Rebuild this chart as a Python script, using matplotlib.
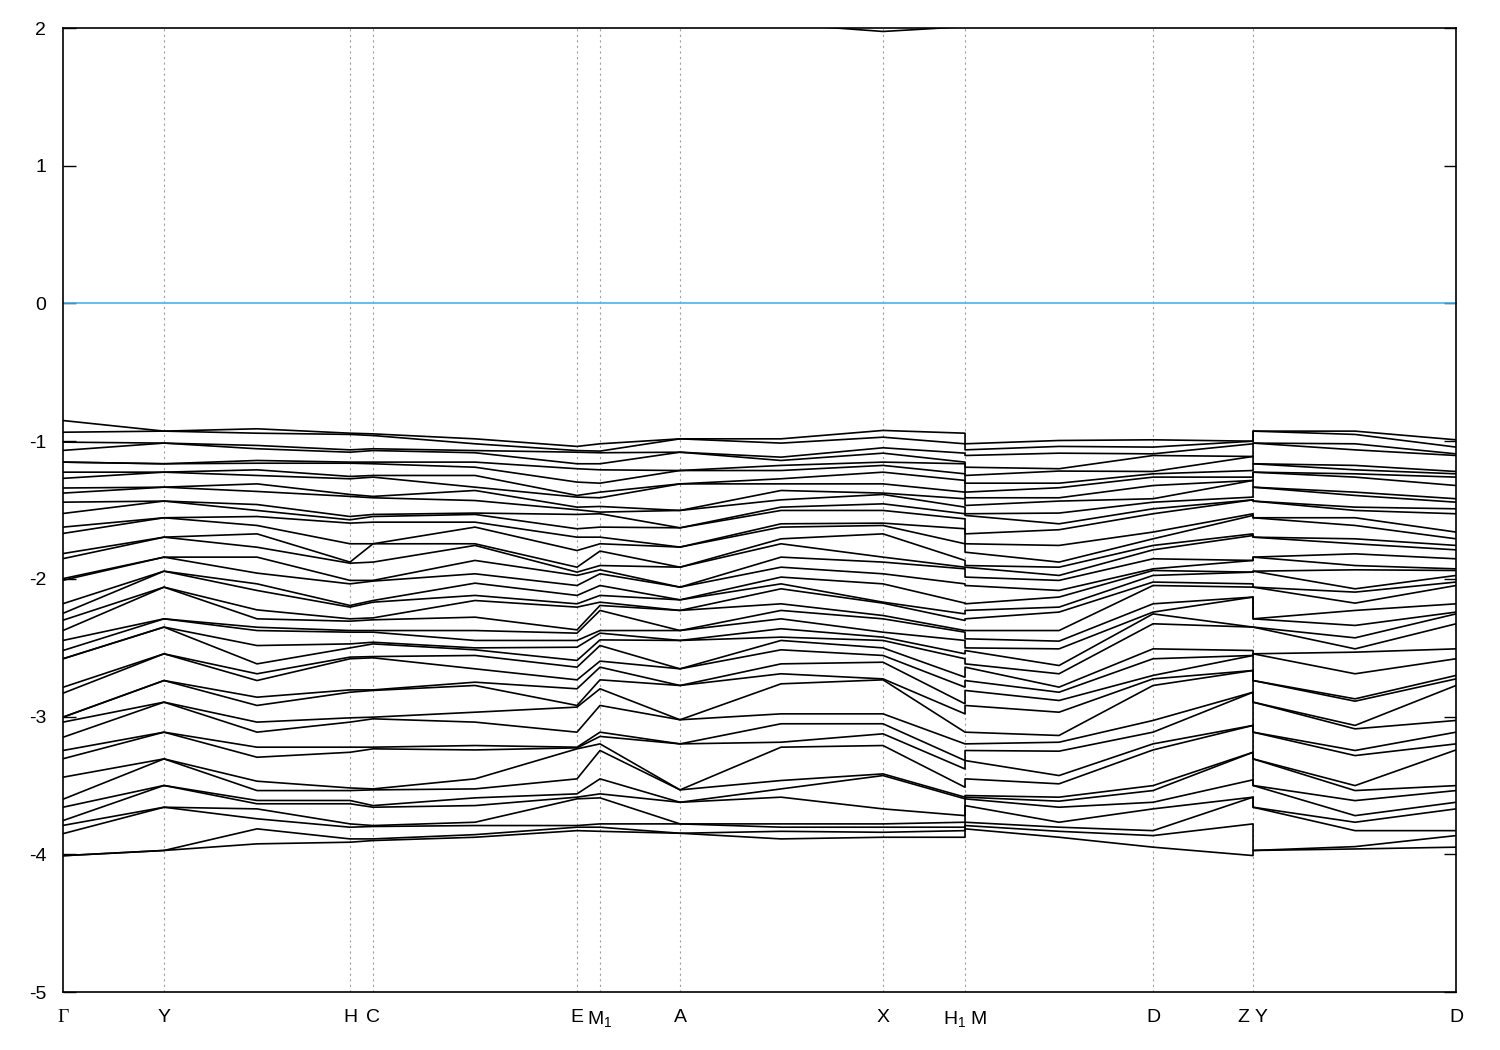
import numpy as np
import matplotlib
matplotlib.use("Agg")
import matplotlib.pyplot as plt

plt.rcParams['font.family'] = ['Liberation Sans', 'DejaVu Sans']
plt.rcParams['mathtext.fontset'] = 'custom'
plt.rcParams['mathtext.rm'] = 'Liberation Sans'
plt.rcParams['mathtext.it'] = 'Liberation Sans:italic'

# path coordinate of each sampled k-point (H1|M and Z|Y are path breaks)
kpath = [0, 101, 194, 287, 310, 412, 514, 537, 617, 718, 820, 902,
         902, 996, 1090, 1190,
         1190, 1292, 1393]

tick_pos = [0, 101, 287, 310, 514, 537, 617, 820, 902, 1090, 1190, 1393]
tick_lab = ['Γ', 'Y', 'H', 'C', 'E', r'M$_1$', 'A', 'X', r'H$_1$ M', 'D', 'Z Y', 'D']

# band energies (eV) read at each k sample, 42 bands
e_gamma = [-0.850, -0.935, -1.007, -1.067, -1.152, -1.152, -1.225, -1.270, -1.340, -1.377,
           -1.443, -1.525, -1.624, -1.670, -1.816, -1.853, -1.998, -2.010, -2.180, -2.250,
           -2.300, -2.375, -2.447, -2.520, -2.580, -2.580, -2.787, -2.830, -3.004, -3.004,
           -3.040, -3.150, -3.246, -3.306, -3.440, -3.600, -3.658, -3.755, -3.790, -3.850,
           -4.010, -4.010]
e_y = [-0.927, -0.927, -1.014, -1.014, -1.164, -1.164, -1.225, -1.225, -1.334, -1.334,
       -1.435, -1.435, -1.556, -1.556, -1.697, -1.697, -1.842, -1.842, -1.944, -1.944,
       -2.060, -2.060, -2.290, -2.290, -2.350, -2.350, -2.544, -2.544, -2.738, -2.738,
       -2.895, -2.895, -3.113, -3.113, -3.307, -3.307, -3.500, -3.500, -3.658, -3.658,
       -3.972, -3.972]
e_yh = [-0.910, -0.942, -1.031, -1.055, -1.140, -1.160, -1.208, -1.249, -1.310, -1.365,
        -1.460, -1.503, -1.547, -1.612, -1.673, -1.770, -1.842, -1.958, -2.036, -2.084,
        -2.225, -2.290, -2.351, -2.375, -2.484, -2.617, -2.689, -2.738, -2.859, -2.919,
        -3.040, -3.113, -3.222, -3.295, -3.469, -3.537, -3.609, -3.633, -3.670, -3.742,
        -3.815, -3.924]
e_h = [-0.942, -0.951, -1.063, -1.080, -1.152, -1.160, -1.256, -1.273, -1.387, -1.401,
       -1.547, -1.571, -1.595, -1.745, -1.878, -1.886, -2.011, -2.036, -2.193, -2.205,
       -2.290, -2.307, -2.375, -2.387, -2.472, -2.501, -2.568, -2.580, -2.806, -2.823,
       -3.009, -3.040, -3.222, -3.259, -3.518, -3.537, -3.609, -3.633, -3.779, -3.803,
       -3.888, -3.912]
e_c = [-0.947, -0.959, -1.055, -1.068, -1.152, -1.164, -1.249, -1.261, -1.401, -1.411,
       -1.532, -1.547, -1.588, -1.745, -1.745, -1.878, -2.011, -2.016, -2.157, -2.169,
       -2.283, -2.297, -2.375, -2.387, -2.460, -2.472, -2.564, -2.573, -2.806, -2.810,
       -3.004, -3.016, -3.222, -3.234, -3.525, -3.532, -3.646, -3.658, -3.791, -3.798,
       -3.888, -3.900]
e_ce = [-0.983, -1.019, -1.068, -1.084, -1.152, -1.189, -1.249, -1.334, -1.358, -1.431,
        -1.522, -1.532, -1.588, -1.624, -1.745, -1.757, -1.866, -1.963, -2.031, -2.120,
        -2.157, -2.278, -2.375, -2.447, -2.501, -2.515, -2.556, -2.653, -2.750, -2.774,
        -2.968, -3.040, -3.210, -3.242, -3.452, -3.525, -3.590, -3.646, -3.767, -3.791,
        -3.857, -3.876]
e_e = [-1.038, -1.068, -1.080, -1.164, -1.200, -1.297, -1.394, -1.406, -1.479, -1.498,
       -1.532, -1.636, -1.697, -1.794, -1.915, -1.951, -1.975, -2.048, -2.120, -2.181,
       -2.205, -2.370, -2.394, -2.447, -2.496, -2.592, -2.641, -2.733, -2.798, -2.919,
       -2.931, -3.113, -3.222, -3.227, -3.234, -3.452, -3.561, -3.585, -3.597, -3.791,
       -3.803, -3.828]
e_m1 = [-1.019, -1.072, -1.084, -1.164, -1.208, -1.305, -1.370, -1.411, -1.474, -1.515,
        -1.527, -1.624, -1.697, -1.745, -1.798, -1.903, -1.934, -1.963, -2.048, -2.120,
        -2.169, -2.193, -2.229, -2.375, -2.394, -2.443, -2.484, -2.597, -2.641, -2.733,
        -2.798, -2.919, -3.113, -3.144, -3.198, -3.246, -3.452, -3.561, -3.590, -3.779,
        -3.803, -3.833]
e_a = [-0.983, -0.983, -1.080, -1.080, -1.213, -1.213, -1.310, -1.310, -1.503, -1.503,
       -1.629, -1.629, -1.769, -1.769, -1.915, -1.915, -2.060, -2.060, -2.152, -2.152,
       -2.229, -2.229, -2.375, -2.375, -2.447, -2.447, -2.653, -2.653, -2.774, -2.774,
       -3.023, -3.023, -3.198, -3.198, -3.532, -3.532, -3.622, -3.622, -3.779, -3.779,
       -3.847, -3.847]
e_ax = [-0.983, -1.014, -1.116, -1.140, -1.176, -1.213, -1.273, -1.310, -1.358, -1.426,
        -1.479, -1.503, -1.600, -1.624, -1.709, -1.745, -1.842, -1.915, -1.987, -2.036,
        -2.072, -2.181, -2.229, -2.290, -2.362, -2.423, -2.447, -2.515, -2.617, -2.689,
        -2.762, -2.980, -3.052, -3.186, -3.222, -3.464, -3.525, -3.585, -3.779, -3.803,
        -3.833, -3.888]
e_x = [-0.922, -0.971, -1.048, -1.087, -1.152, -1.176, -1.225, -1.310, -1.377, -1.387,
       -1.455, -1.503, -1.595, -1.612, -1.673, -1.842, -1.878, -1.963, -2.036, -2.169,
       -2.176, -2.266, -2.290, -2.387, -2.423, -2.447, -2.501, -2.556, -2.605, -2.726,
       -2.733, -2.980, -3.052, -3.125, -3.210, -3.416, -3.428, -3.670, -3.779, -3.803,
       -3.840, -3.876]
e_h1 = [-0.942, -1.019, -1.087, -1.152, -1.164, -1.237, -1.285, -1.370, -1.418, -1.479,
        -1.527, -1.564, -1.636, -1.745, -1.866, -1.915, -1.927, -2.036, -2.176, -2.254,
        -2.302, -2.375, -2.387, -2.447, -2.544, -2.580, -2.714, -2.786, -2.907, -2.980,
        -3.113, -3.198, -3.319, -3.380, -3.513, -3.585, -3.597, -3.719, -3.767, -3.803,
        -3.828, -3.876]
e_m = [-1.019, -1.063, -1.104, -1.189, -1.249, -1.305, -1.370, -1.411, -1.467, -1.527,
       -1.539, -1.673, -1.745, -1.806, -1.903, -1.915, -1.987, -2.048, -2.181, -2.229,
       -2.290, -2.375, -2.435, -2.501, -2.520, -2.617, -2.641, -2.738, -2.810, -2.919,
       -3.113, -3.198, -3.246, -3.319, -3.452, -3.573, -3.585, -3.597, -3.646, -3.767,
       -3.791, -3.815]
e_md = [-0.995, -1.038, -1.087, -1.200, -1.217, -1.305, -1.338, -1.411, -1.435, -1.522,
        -1.600, -1.643, -1.757, -1.878, -1.915, -1.975, -2.011, -2.084, -2.132, -2.205,
        -2.241, -2.375, -2.452, -2.508, -2.629, -2.689, -2.786, -2.823, -2.883, -2.968,
        -3.137, -3.186, -3.251, -3.428, -3.488, -3.585, -3.614, -3.658, -3.767, -3.803,
        -3.833, -3.876]
e_d = [-0.990, -1.043, -1.092, -1.104, -1.220, -1.237, -1.261, -1.322, -1.418, -1.443,
       -1.491, -1.527, -1.660, -1.709, -1.757, -1.789, -1.854, -1.927, -1.939, -1.975,
       -2.023, -2.048, -2.181, -2.241, -2.254, -2.326, -2.508, -2.580, -2.701, -2.726,
       -2.774, -3.028, -3.113, -3.198, -3.242, -3.501, -3.537, -3.622, -3.670, -3.828,
       -3.864, -3.948]
e_z = [-1.000, -1.000, -1.019, -1.111, -1.111, -1.213, -1.261, -1.285, -1.285, -1.406,
       -1.426, -1.426, -1.527, -1.539, -1.673, -1.685, -1.866, -1.866, -1.951, -1.951,
       -2.036, -2.060, -2.132, -2.132, -2.350, -2.350, -2.520, -2.556, -2.556, -2.665,
       -2.665, -2.823, -2.823, -3.064, -3.064, -3.259, -3.259, -3.459, -3.585, -3.585,
       -3.779, -4.009]
e_yd = [-0.927, -0.951, -1.019, -1.063, -1.176, -1.208, -1.237, -1.261, -1.370, -1.394,
        -1.479, -1.503, -1.556, -1.612, -1.709, -1.745, -1.818, -1.903, -1.934, -2.072,
        -2.096, -2.176, -2.229, -2.338, -2.428, -2.508, -2.532, -2.689, -2.871, -2.888,
        -3.064, -3.089, -3.246, -3.283, -3.501, -3.537, -3.610, -3.719, -3.767, -3.828,
        -3.944, -3.961]

columns = [e_gamma, e_y, e_yh, e_h, e_c, e_ce, e_e, e_m1, e_a, e_ax, e_x, e_h1,
           e_m, e_md, e_d, e_z,
           e_y, e_yd, e_d]

# lowest conduction band, only visible around X
cb_k = [617, 718, 820, 902]
cb_e = [2.15, 2.03, 1.975, 2.01]

bands = np.array([sorted(c) for c in columns])

fig = plt.figure(figsize=(15, 10.5), dpi=100)
ax = fig.add_axes([0.042, 0.0552, 0.9287, 0.9181])

for x in tick_pos[1:-1]:
    ax.axvline(x, color='#a0a0a0', lw=0.8, ls=(0, (2, 3)), zorder=1)

ax.axhline(0, color='#4fb0e3', lw=1.2, zorder=2)
ax.plot(kpath, bands, color='k', lw=1.2, zorder=3)
ax.plot(cb_k, cb_e, color='k', lw=1.2, zorder=3)

ax.set_xlim(0, 1393)
ax.set_ylim(-5, 2)
ax.set_yticks(range(-5, 3))
ax.set_yticklabels([str(v) for v in range(-5, 3)])
ax.set_xticks(tick_pos)
ax.set_xticklabels(tick_lab)
ax.get_xticklabels()[0].set_fontfamily('Liberation Serif')
ax.tick_params(axis='both', direction='in', length=9, width=1, labelsize=14,
               top=True, right=True)
ax.tick_params(axis='y', pad=12)
ax.tick_params(axis='x', pad=12, length=0)
for s in ax.spines.values():
    s.set_linewidth(1.2)

fig.savefig('out.png', dpi=100)
